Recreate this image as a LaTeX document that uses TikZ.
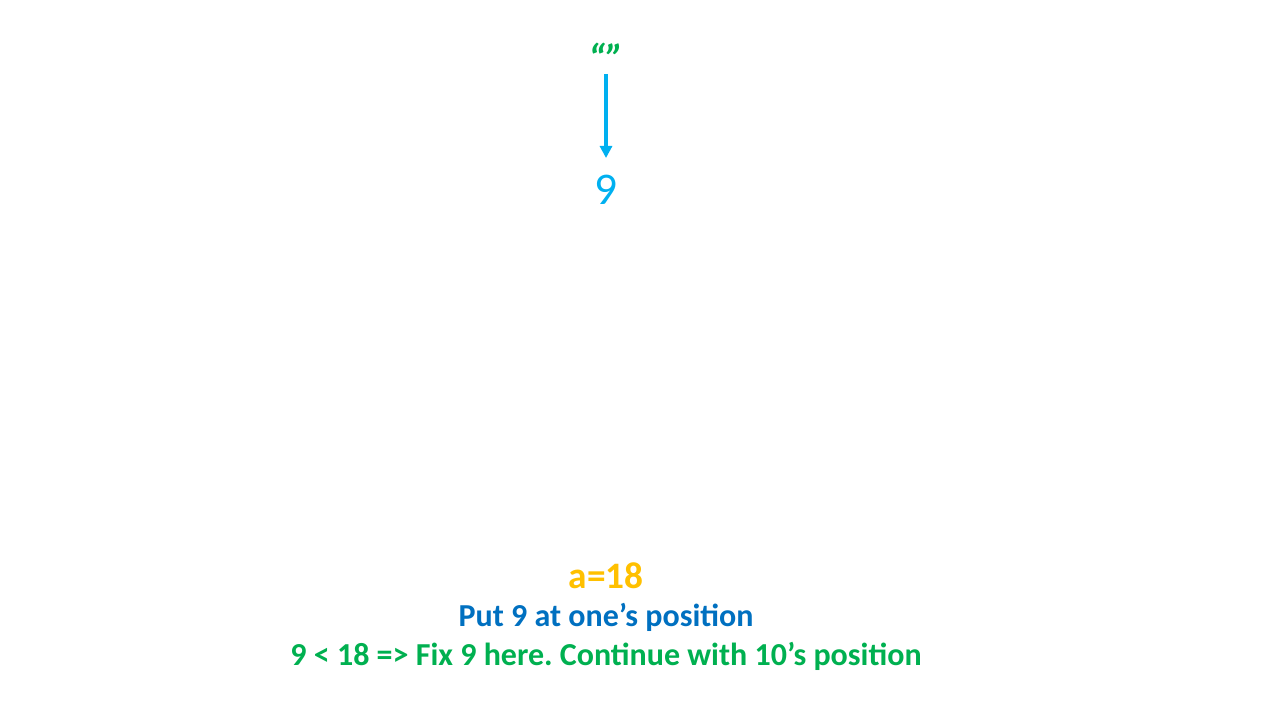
\documentclass[tikz,border=0pt]{standalone}
\usepackage{fontspec}
\setmainfont{Carlito}
\usetikzlibrary{arrows.meta}
\definecolor{qgreen}{HTML}{00B050}
\definecolor{qcyan}{HTML}{00B0F0}
\definecolor{qblue}{HTML}{0070C0}
\definecolor{qgold}{HTML}{FFC000}
\frenchspacing

\begin{document}
\begin{tikzpicture}[x=0.75pt,y=-0.75pt]
            \tikzstyle{txt}=[inner sep=0pt,anchor=center]
            \tikzstyle{note}=[txt,font=\fontsize{24}{28}\selectfont\bfseries]

            \tikzstyle{V}=[txt,font=\fontsize{34}{38}\selectfont,color=qcyan]  % digit
            \tikzstyle{Q}=[txt,font=\fontsize{30}{34}\selectfont\bfseries\itshape,color=qgreen] % string

            \useasboundingbox (0,0) rectangle (1280,720);

            \node[Q] (str) at (606, 58) {“”};
            \node[V] (dig) at (606,190) {9};

            \coordinate (top) at (606,74);
            \coordinate (tip) at (606,158);
            \path[draw,qcyan,line width=2.3pt,-{Triangle[length=9pt,width=9pt]}] (top) -- (tip);

            \node[note,font=\fontsize{28}{32}\selectfont\bfseries,color=qgold] (a) at (606,576) {a=18};
            \node[note,color=qblue]  (put) at (606,617) {Put 9 at one’s position};
            \node[note,color=qgreen] (fix) at (606,656) {9 < 18 => Fix 9 here. Continue with 10’s position};
\end{tikzpicture}
\end{document}
